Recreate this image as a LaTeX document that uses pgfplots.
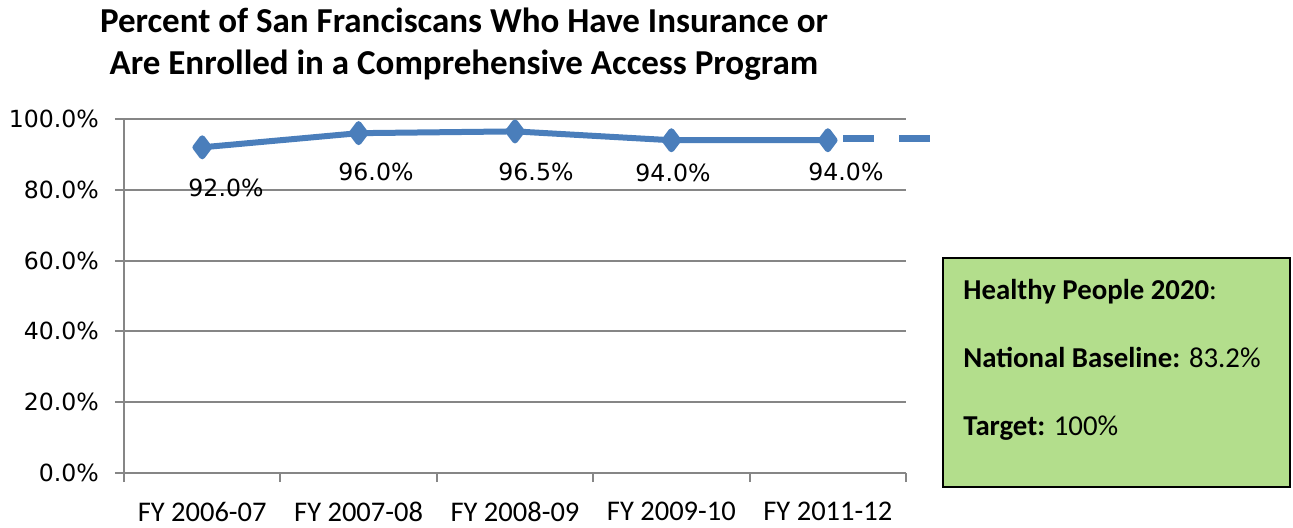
\documentclass[border=0pt]{standalone}
\usepackage{fontspec}
\setmainfont{Carlito}
\newfontfamily\dv{DejaVu Sans}
\usepackage{pgfplots}
\pgfplotsset{compat=1.18}
\definecolor{lineblue}{RGB}{74,126,187}
\definecolor{gridgray}{RGB}{134,134,134}
\definecolor{boxgreen}{RGB}{179,222,140}

\begin{document}
\begin{tikzpicture}
\path[use as bounding box] (-62pt,-27pt) rectangle (584.5pt,236.5pt);
\begin{axis}[
  at={(0pt,0pt)}, anchor=south west,
  scale only axis, width=391pt, height=177pt,
  xmin=-0.5, xmax=4.5, ymin=0, ymax=100,
  axis x line*=bottom, axis y line*=left,
  axis line style={-, gridgray, line width=1pt},
  ymajorgrids, major grid style={gridgray, line width=1pt},
  tick align=outside, major tick length=4.5pt,
  tick style={gridgray, line width=1pt},
  ytick={0,20,...,100},
  yticklabels={0.0\%,20.0\%,40.0\%,60.0\%,80.0\%,100.0\%},
  y tick label style={font=\dv\fontsize{11.8}{14}\selectfont, xshift=-4.5pt},
  xtick={-0.5,0.5,...,4.5}, xticklabels={},
  extra x ticks={0,1,2,3,4},
  extra x tick labels={FY 2006-07,FY 2007-08,FY 2008-09,FY 2009-10,FY 2011-12},
  extra x tick style={major tick length=0pt},
  x tick label style={font=\fontsize{14.25}{16}\selectfont, yshift=-11pt},
  clip=false,
]
\addplot[lineblue, line width=3pt, line join=round, mark=diamond*, mark size=4.5pt, mark options={solid}]
  coordinates {(0,92) (1,96) (2,96.5) (3,94) (4,94)};
\addplot[lineblue, line width=3.5pt, dash pattern=on 15.5pt off 12.5pt, forget plot]
  coordinates {(4.1,94.5) (4.68,94.5)};
\node[font=\dv\fontsize{11.8}{14}\selectfont] at (axis cs:0.152,80.5) {92.0\%};
\node[font=\dv\fontsize{11.8}{14}\selectfont] at (axis cs:1.111,85.0) {96.0\%};
\node[font=\dv\fontsize{11.8}{14}\selectfont] at (axis cs:2.134,85.0) {96.5\%};
\node[font=\dv\fontsize{11.8}{14}\selectfont] at (axis cs:3.010,84.7) {94.0\%};
\node[font=\dv\fontsize{11.8}{14}\selectfont] at (axis cs:4.116,85.0) {94.0\%};
\end{axis}
% title
\node[anchor=base, font=\bfseries\fontsize{17.5}{20}\selectfont] at (170pt,220.5pt)
  {Percent of San Franciscans Who Have Insurance or};
\node[anchor=base, font=\bfseries\fontsize{17.5}{20}\selectfont] at (170pt,199.5pt)
  {Are Enrolled in a Comprehensive Access Program};
% text box
\draw[fill=boxgreen, draw=black, line width=1pt] (409.5pt,-7pt) rectangle (583pt,107.5pt);
\begin{scope}[every node/.style={anchor=base west, inner sep=0pt, font=\fontsize{14.4}{17}\selectfont}]
\node at (419.5pt,87pt) {\textbf{Healthy People 2020}:};
\node at (419.5pt,53pt) {\textbf{National Baseline:} 83.2\%};
\node at (419.5pt,19pt) {\textbf{Target:} 100\%};
\end{scope}
\end{tikzpicture}
\end{document}
